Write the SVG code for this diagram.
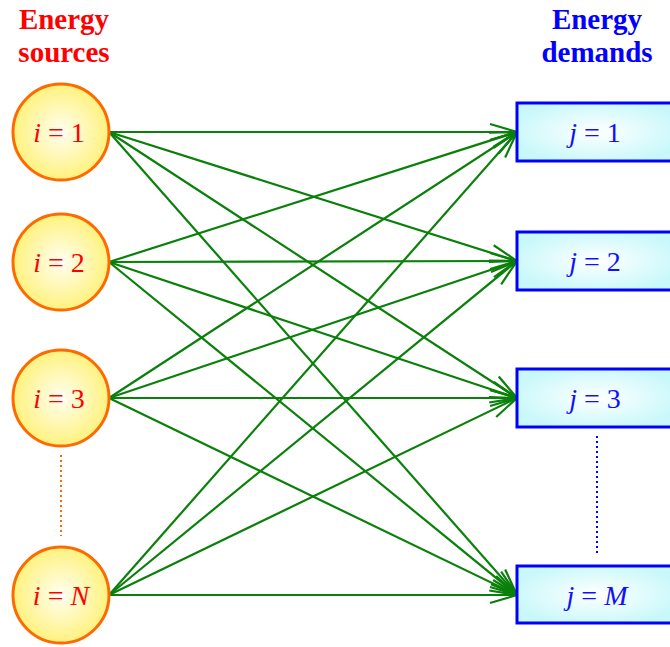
<svg xmlns="http://www.w3.org/2000/svg" width="670" height="647" viewBox="0 0 670 647">
<defs>
<radialGradient id="gy" cx="50%" cy="50%" r="50%">
<stop offset="0" stop-color="#ffffff"/>
<stop offset="0.15" stop-color="#fffce0"/>
<stop offset="1" stop-color="#fff27e"/>
</radialGradient>
<radialGradient id="gc" cx="50%" cy="50%" r="55%">
<stop offset="0" stop-color="#ffffff"/>
<stop offset="1" stop-color="#c8f8fa"/>
</radialGradient>
<marker id="ah" markerUnits="userSpaceOnUse" markerWidth="40" markerHeight="30" viewBox="-30 -15 40 30" refX="0" refY="0" orient="auto" overflow="visible">
<path d="M-27,-8 L0,0 L-27,8" fill="none" stroke="#0a800a" stroke-width="2.2"/>
</marker>
</defs>
<style>
.title{font-family:"Liberation Serif",serif;font-weight:bold;font-size:29px;text-anchor:middle}
.src circle{fill:url(#gy);stroke:#ff6a00;stroke-width:3}
.dem rect{fill:url(#gc);stroke:#0000ff;stroke-width:3}
.lbl{font-family:"Liberation Serif",serif;font-size:28px;text-anchor:middle}
.src .lbl{fill:#ff0000}
.dem .lbl{fill:#1010ff}
#connectors line{stroke:#0a800a;stroke-width:2.2;marker-end:url(#ah)}
</style>
<g id="titles">
<text class="title" x="64" y="29" fill="#ff0000">Energy</text>
<text class="title" x="64" y="62" fill="#ff0000">sources</text>
<text class="title" x="597" y="29" fill="#0000ff">Energy</text>
<text class="title" x="597" y="62" fill="#0000ff">demands</text>
</g>
<g id="dots">
<line x1="61" y1="455" x2="61" y2="536" stroke="#ff6a00" stroke-width="2" stroke-dasharray="2,3"/>
<line x1="597" y1="436" x2="597" y2="555" stroke="#0000ff" stroke-width="2" stroke-dasharray="2,3"/>
</g>
<g id="connectors">
<line x1="109" y1="132" x2="517" y2="132"/>
<line x1="109" y1="132" x2="517" y2="261"/>
<line x1="109" y1="132" x2="517" y2="398"/>
<line x1="109" y1="132" x2="517" y2="595"/>
<line x1="109" y1="262" x2="517" y2="132"/>
<line x1="109" y1="262" x2="517" y2="261"/>
<line x1="109" y1="262" x2="517" y2="398"/>
<line x1="109" y1="262" x2="517" y2="595"/>
<line x1="109" y1="398" x2="517" y2="132"/>
<line x1="109" y1="398" x2="517" y2="261"/>
<line x1="109" y1="398" x2="517" y2="398"/>
<line x1="109" y1="398" x2="517" y2="595"/>
<line x1="109" y1="595" x2="517" y2="132"/>
<line x1="109" y1="595" x2="517" y2="261"/>
<line x1="109" y1="595" x2="517" y2="398"/>
<line x1="109" y1="595" x2="517" y2="595"/>
</g>
<g id="src1" class="src"><circle cx="61" cy="132" r="48"/><text class="lbl" x="59" y="142"><tspan font-style="italic">i</tspan> = 1</text></g>
<g id="src2" class="src"><circle cx="61" cy="262" r="48"/><text class="lbl" x="59" y="272"><tspan font-style="italic">i</tspan> = 2</text></g>
<g id="src3" class="src"><circle cx="61" cy="398" r="48"/><text class="lbl" x="59" y="408"><tspan font-style="italic">i</tspan> = 3</text></g>
<g id="srcN" class="src"><circle cx="61" cy="595" r="48"/><text class="lbl" x="61" y="605"><tspan font-style="italic">i</tspan> = <tspan font-style="italic">N</tspan></text></g>
<g id="dem1" class="dem"><rect x="517" y="103" width="160" height="58"/><text class="lbl" x="595" y="142"><tspan font-style="italic">j</tspan> = 1</text></g>
<g id="dem2" class="dem"><rect x="517" y="232" width="160" height="58"/><text class="lbl" x="595" y="271"><tspan font-style="italic">j</tspan> = 2</text></g>
<g id="dem3" class="dem"><rect x="517" y="369" width="160" height="58"/><text class="lbl" x="595" y="408"><tspan font-style="italic">j</tspan> = 3</text></g>
<g id="demM" class="dem"><rect x="517" y="566" width="160" height="57"/><text class="lbl" x="597" y="605"><tspan font-style="italic">j</tspan> = <tspan font-style="italic">M</tspan></text></g>
</svg>
